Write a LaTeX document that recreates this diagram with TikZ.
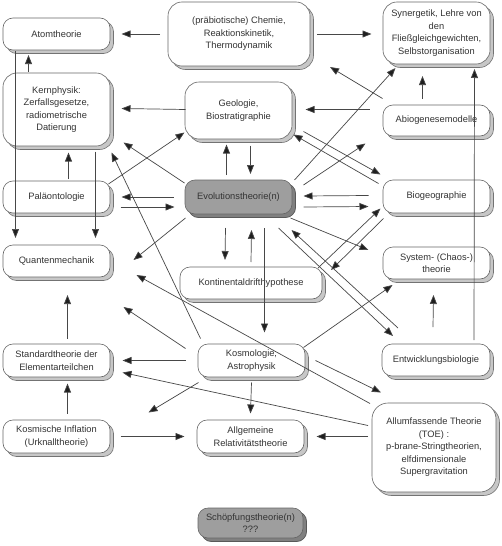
\documentclass[tikz,border=0pt]{standalone}
\usepackage{fontspec}
\setmainfont{Liberation Sans}
\usetikzlibrary{arrows.meta,shadows,calc}
\begin{document}
\begin{tikzpicture}[x=1pt,y=-1pt,
  box/.style={draw=black!60, line width=0.6pt, fill=white, rounded corners=10pt,
    align=center, font=\fontsize{9.3}{12.5}\selectfont, text=black!80, inner sep=0pt,
    minimum width=107pt, minimum height=32pt,
    drop shadow={shadow xshift=3.5pt, shadow yshift=-3.5pt, fill=black!22, draw=black!55, opacity=1}},
  bigbox/.style={box, rounded corners=14pt},
  darkbox/.style={box, fill=black!38,
    drop shadow={shadow xshift=3.5pt, shadow yshift=-3.5pt, fill=black!50, draw=black!65, opacity=1}},
  arr/.style={-{Triangle[length=9pt,width=7pt,fill=black!88]}, draw=black!72, line width=0.7pt}]
\fill[white] (0,0) rectangle (501,546);
\useasboundingbox (0,0) rectangle (501,546);

% nodes
\node[box] (atom) at (56.5,34) {Atomtheorie};
\node[bigbox, minimum width=142pt, minimum height=64pt] (chem) at (239,34) {(präbiotische) Chemie,\\Reaktionskinetik,\\Thermodynamik};
\node[bigbox, minimum height=62pt] (syn) at (436.5,33) {Synergetik, Lehre von\\den\\Fließgleichgewichten,\\Selbstorganisation};
\node[bigbox, minimum height=73pt] (kern) at (56.5,109.5) {Kernphysik:\\Zerfallsgesetze,\\radiometrische\\Datierung};
\node[bigbox, minimum height=57pt] (geo) at (238.5,110.5) {Geologie,\\Biostratigraphie};
\node[box, minimum height=31pt] (abio) at (436.5,120.5) {Abiogenesemodelle};
\node[box] (palae) at (56.5,197) {Paläontologie};
\node[darkbox, minimum height=34pt] (evo) at (238.5,197) {Evolutionstheorie(n)};
\node[box, minimum height=33pt] (bio) at (436.5,196.5) {Biogeographie};
\node[box] (quant) at (56.5,261) {Quantenmechanik};
\node[box, minimum width=142pt] (kont) at (251,283) {Kontinentaldrifthypothese};
\node[box] (sys) at (436.5,263) {System- (Chaos-)\\theorie};
\node[box, minimum height=33pt] (std) at (56.5,360.5) {Standardtheorie der\\Elementarteilchen};
\node[box, minimum height=33pt] (kosmo) at (251.5,360.5) {Kosmologie,\\Astrophysik};
\node[box, minimum width=108pt] (entw) at (436,360) {Entwicklungsbiologie};
\node[box, minimum height=33pt] (infl) at (56.5,436.5) {Kosmische Inflation\\(Urknalltheorie)};
\node[box, minimum height=33pt] (allg) at (250.5,436.5) {Allgemeine\\Relativitätstheorie};
\node[box, rounded corners=16pt, minimum width=124pt, minimum height=89pt] (toe) at (434,447.5) {Allumfassende Theorie\\(TOE) :\\p-brane-Stringtheorien,\\elfdimensionale\\Supergravitation};
\node[darkbox, minimum width=105pt, minimum height=30pt] (schoe) at (250.5,523) {Schöpfungstheorie(n)\\???};

% connectors
\draw[arr] ($(chem)+(-79,0)$) -- ($(atom)+(65,0)$);
\draw[arr] ($(chem)+(78,0)$) -- ($(syn)+(-65,1)$);
\draw[arr] ($(kern)+(-28,-38)$) -- ($(atom)+(-28,21)$);
\draw[arr] ($(atom)+(-41,17)$) -- ($(quant)+(-41,-23)$);
\draw[arr] ($(palae)+(12,-18)$) -- ($(kern)+(12,43)$);
\draw[arr] ($(kern)+(39,42)$) -- ($(quant)+(39,-23)$);
\draw[arr] ($(kosmo)+(-51,-22)$) -- ($(kern)+(55,43)$);
\draw[arr] ($(evo)+(-54,-14)$) -- ($(kern)+(67,33)$);
\draw[arr] ($(geo)+(-53,-1)$) -- ($(kern)+(65,-1)$);
\draw[arr] ($(palae)+(52,-13)$) -- ($(geo)+(-54,22)$);
\draw[arr] ($(evo)+(-12,-22)$) -- ($(geo)+(-12,34)$);
\draw[arr] ($(geo)+(12,35)$) -- ($(evo)+(12,-23)$);
\draw[arr] ($(abio)+(-67,-11)$) -- ($(geo)+(67,-1)$);
\draw[arr] ($(abio)+(-14,-22)$) -- ($(syn)+(-14,43)$);
\draw[arr] ($(abio)+(-54,-22)$) -- ($(chem)+(91,33)$);
\draw[arr] ($(entw)+(38,-20)$) -- ($(syn)+(38,36)$);
\draw[arr] ($(evo)+(56,-17)$) -- ($(syn)+(-41,35)$);
\draw[arr] ($(evo)+(65,-12)$) -- ($(abio)+(-71,23)$);
\draw[arr] ($(geo)+(65,21)$) -- ($(bio)+(-56,-22)$);
\draw[arr] ($(bio)+(-58,-13)$) -- ($(geo)+(55,24)$);
\draw[arr] ($(evo)+(-65,0)$) -- ($(palae)+(65,0)$);
\draw[arr] ($(palae)+(64,10)$) -- ($(evo)+(-64,10)$);
\draw[arr] ($(evo)+(-53,21)$) -- ($(quant)+(77,-1)$);
\draw[arr] ($(bio)+(-68,-1)$) -- ($(evo)+(65,-1)$);
\draw[arr] ($(evo)+(65,10)$) -- ($(bio)+(-68,10)$);
\draw[arr] ($(evo)+(52,21)$) -- ($(sys)+(-68,-13)$);
\draw[arr] ($(evo)+(-13,31)$) -- ($(kont)+(-26,-23)$);
\draw[arr] ($(kont)+(0,-21)$) -- ($(evo)+(13,33)$);
\draw[arr] ($(evo)+(26,31)$) -- ($(kosmo)+(13,-28)$);
\draw[arr] ($(evo)+(40,31)$) -- ($(entw)+(-43,-24)$);
\draw[arr] ($(entw)+(-38,-32)$) -- ($(evo)+(53,33)$);
\draw[arr] ($(kont)+(67,-15)$) -- ($(bio)+(-56,12)$);
\draw[arr] ($(bio)+(-53,22)$) -- ($(kont)+(80,-13)$);
\draw[arr] ($(kosmo)+(52,-13)$) -- ($(sys)+(-44,22)$);
\draw[arr] ($(entw)+(-3,-33)$) -- ($(sys)+(-3,32)$);
\draw[arr] ($(kosmo)+(-66,-12)$) -- ($(quant)+(67,46)$);
\draw[arr] ($(toe)+(-64,-44)$) -- ($(quant)+(80,14)$);
\draw[arr] ($(kosmo)+(-66,0)$) -- ($(std)+(66,0)$);
\draw[arr] ($(toe)+(-66,-22)$) -- ($(std)+(66,12)$);
\draw[arr] ($(kosmo)+(-53,22)$) -- ($(infl)+(92,-24)$);
\draw[arr] ($(infl)+(11,-23)$) -- ($(std)+(11,23)$);
\draw[arr] ($(std)+(11,-22)$) -- ($(quant)+(11,34)$);
\draw[arr] ($(kosmo)+(0,22)$) -- ($(allg)+(0,-23)$);
\draw[arr] ($(infl)+(64,0)$) -- ($(allg)+(-66,0)$);
\draw[arr] ($(toe)+(-66,-11)$) -- ($(allg)+(66,0)$);
\draw[arr] ($(kosmo)+(64,0)$) -- ($(toe)+(-53,-55)$);
\end{tikzpicture}
\end{document}
